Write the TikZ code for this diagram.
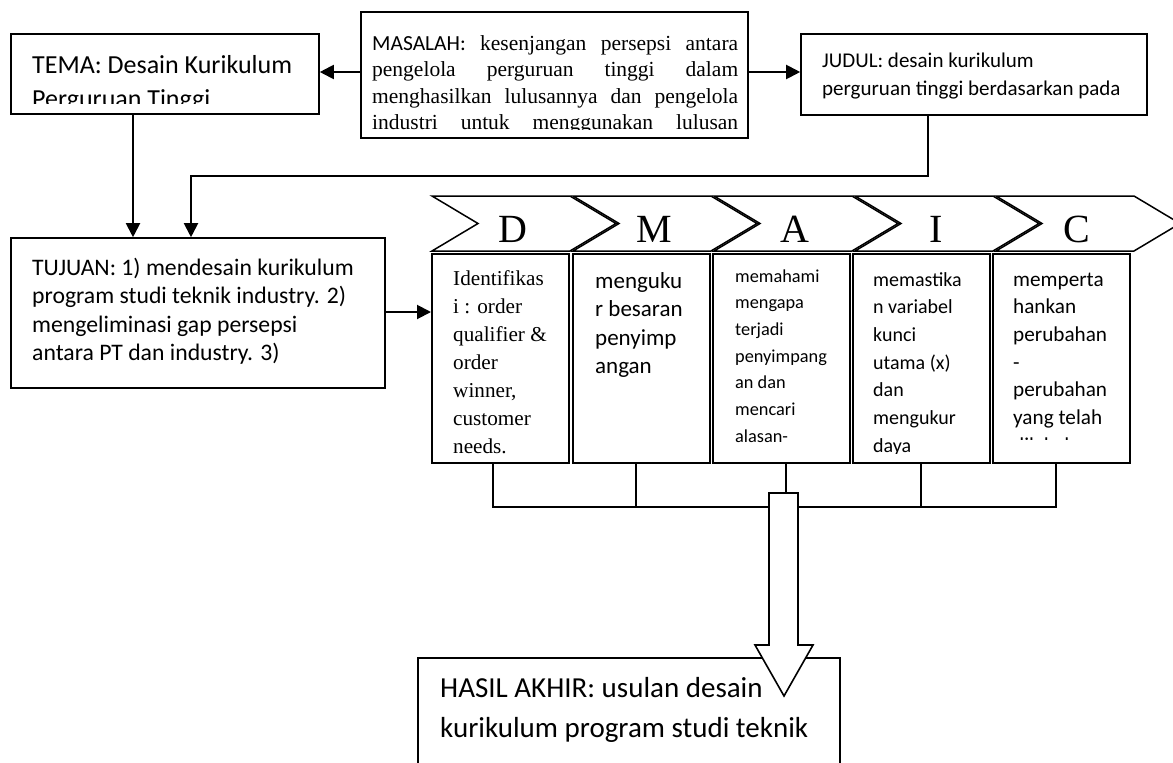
\documentclass[tikz,border=0pt]{standalone}
\usepackage{fontspec}
\setmainfont{Liberation Serif}
\newfontfamily\calib{Carlito}
\usetikzlibrary{arrows.meta}
\newcommand\tl[3]{\fontsize{#1}{#2}\selectfont\begin{tabular}[t]{@{}l@{}}#3\end{tabular}}
\begin{document}
\begin{tikzpicture}[x=1pt,y=-1pt,
  box/.style={draw, line width=1.6pt, inner sep=0pt},
  dbox/.style={draw, line width=2pt, inner sep=0pt, minimum width=137pt, minimum height=209pt},
  arr/.style={line width=2pt, -{Triangle[length=14pt,width=14pt]}},
  txt/.style={anchor=base west, inner sep=0pt, align=left},
  chev/.style={draw, line width=1.5pt, fill=white},
  letter/.style={anchor=base, inner sep=0pt, font=\fontsize{40}{40}\selectfont},
  brk/.style={line width=1.5pt}]
\useasboundingbox (0,0) rectangle (1173,763);
\begin{scope}
\clip (0,0) rectangle (1173,763);
% boxes
\node[box, minimum width=308pt, minimum height=80pt] (tema) at (165,74) {};
\node[box, minimum width=387pt, minimum height=126pt] (masalah) at (554.5,75) {};
\node[box, minimum width=346pt, minimum height=81pt] (judul) at (974,74.5) {};
\node[box, minimum width=374pt, minimum height=150pt] (tujuan) at (198,313) {};
\node[dbox] (bD) at (500.5,358.5) {};
\node[dbox] (bM) at (641.5,358.5) {};
\node[dbox] (bA) at (781.5,358.5) {};
\node[dbox] (bI) at (921.5,358.5) {};
\node[dbox] (bC) at (1061.5,358.5) {};
\node[box, minimum width=422pt, minimum height=132pt] (hasil) at (629,724) {};
% texts
\begin{scope}
\clip (11,34) rectangle (319,103);
\node[txt] (tTema) at (32,73) {\calib\tl{26}{34}{TEMA: Desain Kurikulum\\Perguruan Tinggi}};
\end{scope}
\begin{scope}
\clip (361,12) rectangle (748,129);
\node[txt] (tMas) at (372,50) {\tl{21.5}{26.5}{%
\makebox[366pt][s]{{\calib MASALAH:} kesenjangan persepsi antara}\\
\makebox[366pt][s]{pengelola perguruan tinggi dalam}\\
\makebox[366pt][s]{menghasilkan lulusannya dan pengelola}\\
\makebox[366pt][s]{industri untuk menggunakan lulusan}}};
\end{scope}
\node[txt] (tJud) at (822,67) {\calib\tl{21}{28.5}{JUDUL: desain kurikulum\\perguruan tinggi berdasarkan pada}};
\node[txt] (tTuj) at (32,275) {\calib\tl{23.7}{28.5}{TUJUAN: 1) mendesain kurikulum\\program studi teknik industry. 2)\\mengeliminasi gap persepsi\\antara PT dan industry. 3)}};
\begin{scope}
\clip (432,254) rectangle (990,453);
\node[txt] (tD) at (453,285) {\tl{21.2}{28}{Identifikas\\i : order\\qualifier \&\\order\\winner,\\customer\\needs.}};
\node[txt] (tM) at (595,288) {\calib\tl{23}{28.5}{menguku\\r besaran\\penyimp\\angan}};
\node[txt] (tA) at (735,282) {\calib\tl{18.3}{26.7}{memahami\\mengapa\\terjadi\\penyimpang\\an dan\\mencari\\alasan-}};
\node[txt] (tI) at (873,286) {\calib\tl{20}{27.7}{memastika\\n variabel\\kunci\\utama (x)\\dan\\mengukur\\daya}};
\end{scope}
\begin{scope}
\clip (993,254) rectangle (1130,439);
\node[txt] (tC) at (1013,286) {\calib\tl{21.2}{27.7}{memperta\\hankan\\perubahan\\-\\perubahan\\yang telah\\dilakukan}};
\end{scope}
\node[txt] (tHas) at (440,697) {\calib\tl{29}{40}{HASIL AKHIR: usulan desain\\kurikulum program studi teknik}};
% chevrons
\foreach \L/\c/\n in {432/D/cD,573/M/cM,714/A/cA,855/I/cI,996/C/cC}{
  \draw[chev] (\L,196) -- (\L+138,196) -- (\L+184,223.5) -- (\L+138,251) -- (\L,251) -- (\L+46,223.5) -- cycle;
  \node[letter] (\n) at (\L+81,242) {\c};
}
% connectors
\coordinate (ya) at (0,72);
\draw[arr] (masalah.west |- ya) -- (tema.east |- ya);
\draw[arr] (masalah.east |- ya) -- (judul.west |- ya);
\coordinate (xt) at (133,0);
\draw[arr] (tema.south -| xt) -- (tujuan.north -| xt);
\coordinate (jx) at (928,176);
\coordinate (tx) at (191,176);
\draw[arr] (judul.south -| jx) -- (jx) -- (tx) -- (tujuan.north -| tx);
\coordinate (yt) at (0,312);
\draw[arr] (tujuan.east |- yt) -- (bD.west |- yt);
% bracket
\coordinate (vD) at (493,507);
\coordinate (vM) at (636,507);
\coordinate (vA) at (786,493);
\coordinate (vI) at (921,507);
\coordinate (vC) at (1056,507);
\draw[brk] (bD.south -| vD) -- (vD) -- (vC) -- (bC.south -| vC);
\draw[brk] (bM.south -| vM) -- (vM);
\draw[brk] (bI.south -| vI) -- (vI);
\draw[brk] (bA.south -| vA) -- (vA);
% block arrow
\draw[line width=1.6pt, fill=white, line join=miter] (769,493) -- (798,493) -- (798,645) -- (813,645) -- (784,696) -- (755,645) -- (769,645) -- cycle;
\end{scope}
\end{tikzpicture}
\end{document}
